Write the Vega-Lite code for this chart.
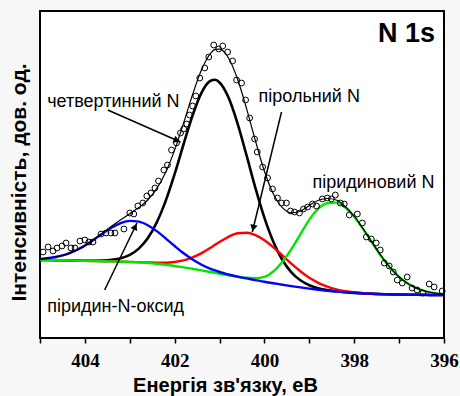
{
  "$schema": "https://vega.github.io/schema/vega-lite/v6.json",
  "width": 404,
  "height": 327,
  "autosize": {"type": "none"},
  "padding": {"left": 40, "top": 11, "right": 16, "bottom": 58},
  "background": "#f7f7f7",
  "config": {"view": {"stroke": "black", "strokeWidth": 2, "fill": "white"}},
  "datasets": {
    "curves": [
      {"x": 405.0, "bk": 78.0, "rd": 78.0, "bl": 79.0, "gr": 78.0, "ft": 79.0},
      {"x": 404.8, "bk": 78.0, "rd": 78.0, "bl": 80.0, "gr": 78.0, "ft": 80.0},
      {"x": 404.6, "bk": 77.8, "rd": 77.8, "bl": 81.5, "gr": 77.8, "ft": 81.5},
      {"x": 404.4, "bk": 77.6, "rd": 77.6, "bl": 83.9, "gr": 77.6, "ft": 83.9},
      {"x": 404.2, "bk": 77.4, "rd": 77.4, "bl": 87.6, "gr": 77.4, "ft": 87.6},
      {"x": 404.0, "bk": 77.3, "rd": 77.2, "bl": 92.4, "gr": 77.2, "ft": 92.5},
      {"x": 403.8, "bk": 77.3, "rd": 77.0, "bl": 98.3, "gr": 77.0, "ft": 98.6},
      {"x": 403.6, "bk": 77.4, "rd": 76.8, "bl": 104.6, "gr": 76.8, "ft": 105.2},
      {"x": 403.4, "bk": 78.1, "rd": 76.6, "bl": 110.5, "gr": 76.6, "ft": 112.0},
      {"x": 403.2, "bk": 79.7, "rd": 76.3, "bl": 114.9, "gr": 76.3, "ft": 118.3},
      {"x": 403.0, "bk": 83.1, "rd": 76.1, "bl": 117.1, "gr": 76.0, "ft": 124.3},
      {"x": 402.8, "bk": 89.4, "rd": 75.8, "bl": 116.4, "gr": 75.6, "ft": 130.4},
      {"x": 402.6, "bk": 99.7, "rd": 75.5, "bl": 112.8, "gr": 75.0, "ft": 138.0},
      {"x": 402.4, "bk": 115.5, "rd": 75.3, "bl": 106.9, "gr": 74.2, "ft": 149.3},
      {"x": 402.2, "bk": 137.1, "rd": 75.3, "bl": 99.7, "gr": 73.2, "ft": 165.7},
      {"x": 402.0, "bk": 164.1, "rd": 76.0, "bl": 92.0, "gr": 72.0, "ft": 188.1},
      {"x": 401.8, "bk": 194.0, "rd": 77.6, "bl": 84.7, "gr": 70.6, "ft": 215.1},
      {"x": 401.6, "bk": 222.8, "rd": 80.6, "bl": 78.5, "gr": 69.2, "ft": 243.5},
      {"x": 401.4, "bk": 245.4, "rd": 84.9, "bl": 73.3, "gr": 67.6, "ft": 268.4},
      {"x": 401.2, "bk": 257.2, "rd": 90.3, "bl": 69.2, "gr": 66.0, "ft": 284.7},
      {"x": 401.1, "bk": 258.2, "rd": 93.2, "bl": 67.6, "gr": 65.2, "ft": 288.6},
      {"x": 401.0, "bk": 255.5, "rd": 96.0, "bl": 66.0, "gr": 64.3, "ft": 288.9},
      {"x": 400.8, "bk": 240.4, "rd": 101.2, "bl": 63.5, "gr": 62.7, "ft": 280.0},
      {"x": 400.6, "bk": 214.6, "rd": 104.7, "bl": 61.4, "gr": 61.3, "ft": 259.0},
      {"x": 400.4, "bk": 182.8, "rd": 105.3, "bl": 59.6, "gr": 60.2, "ft": 229.7},
      {"x": 400.2, "bk": 149.9, "rd": 102.9, "bl": 57.9, "gr": 59.8, "ft": 197.1},
      {"x": 400.0, "bk": 120.1, "rd": 97.8, "bl": 56.2, "gr": 61.2, "ft": 166.7},
      {"x": 399.8, "bk": 96.0, "rd": 90.7, "bl": 54.7, "gr": 66.7, "ft": 144.0},
      {"x": 399.6, "bk": 78.0, "rd": 82.6, "bl": 53.3, "gr": 76.3, "ft": 130.3},
      {"x": 399.4, "bk": 65.7, "rd": 74.3, "bl": 51.9, "gr": 88.9, "ft": 125.1},
      {"x": 399.2, "bk": 57.7, "rd": 66.7, "bl": 50.6, "gr": 103.6, "ft": 126.8},
      {"x": 399.0, "bk": 52.8, "rd": 60.2, "bl": 49.4, "gr": 118.4, "ft": 132.6},
      {"x": 398.8, "bk": 49.8, "rd": 55.2, "bl": 48.3, "gr": 129.3, "ft": 137.7},
      {"x": 398.6, "bk": 47.9, "rd": 51.4, "bl": 47.3, "gr": 134.8, "ft": 139.5},
      {"x": 398.4, "bk": 46.7, "rd": 48.7, "bl": 46.4, "gr": 135.4, "ft": 138.0},
      {"x": 398.2, "bk": 45.8, "rd": 46.9, "bl": 45.7, "gr": 130.5, "ft": 131.5},
      {"x": 398.0, "bk": 45.1, "rd": 45.7, "bl": 45.1, "gr": 121.3, "ft": 121.9},
      {"x": 397.8, "bk": 44.6, "rd": 44.9, "bl": 44.6, "gr": 108.9, "ft": 109.2},
      {"x": 397.6, "bk": 44.2, "rd": 44.3, "bl": 44.2, "gr": 95.3, "ft": 95.4},
      {"x": 397.4, "bk": 43.9, "rd": 43.9, "bl": 43.9, "gr": 82.0, "ft": 82.0},
      {"x": 397.2, "bk": 43.6, "rd": 43.6, "bl": 43.6, "gr": 70.4, "ft": 70.4},
      {"x": 397.0, "bk": 43.4, "rd": 43.4, "bl": 43.4, "gr": 61.1, "ft": 61.1},
      {"x": 396.8, "bk": 43.3, "rd": 43.3, "bl": 43.3, "gr": 54.3, "ft": 54.3},
      {"x": 396.6, "bk": 43.2, "rd": 43.2, "bl": 43.2, "gr": 49.6, "ft": 49.6},
      {"x": 396.4, "bk": 43.1, "rd": 43.1, "bl": 43.1, "gr": 46.6, "ft": 46.6},
      {"x": 396.2, "bk": 43.0, "rd": 43.0, "bl": 43.0, "gr": 44.8, "ft": 44.8},
      {"x": 396.0, "bk": 43.0, "rd": 43.0, "bl": 43.0, "gr": 43.9, "ft": 43.9}
    ],
    "points": [
      {"x": 404.93, "y": 86}, {"x": 404.82, "y": 91}, {"x": 404.71, "y": 87}, {"x": 404.62, "y": 90},
      {"x": 404.51, "y": 92}, {"x": 404.42, "y": 95}, {"x": 404.31, "y": 90}, {"x": 404.22, "y": 90},
      {"x": 404.11, "y": 97}, {"x": 404.0, "y": 98}, {"x": 403.91, "y": 96}, {"x": 403.82, "y": 96},
      {"x": 403.64, "y": 104}, {"x": 403.53, "y": 105}, {"x": 403.42, "y": 105}, {"x": 403.33, "y": 105},
      {"x": 403.13, "y": 109}, {"x": 403.0, "y": 125}, {"x": 402.91, "y": 124}, {"x": 402.82, "y": 132},
      {"x": 402.71, "y": 135}, {"x": 402.62, "y": 142}, {"x": 402.53, "y": 145}, {"x": 402.44, "y": 150},
      {"x": 402.36, "y": 157}, {"x": 402.24, "y": 168}, {"x": 402.16, "y": 173}, {"x": 402.07, "y": 188},
      {"x": 401.96, "y": 195}, {"x": 401.87, "y": 205}, {"x": 401.8, "y": 209}, {"x": 401.73, "y": 214},
      {"x": 401.67, "y": 223}, {"x": 401.6, "y": 232}, {"x": 401.53, "y": 242}, {"x": 401.44, "y": 260},
      {"x": 401.33, "y": 270}, {"x": 401.24, "y": 281}, {"x": 401.13, "y": 293}, {"x": 401.02, "y": 289},
      {"x": 400.93, "y": 292}, {"x": 400.82, "y": 286}, {"x": 400.71, "y": 277}, {"x": 400.62, "y": 258},
      {"x": 400.51, "y": 255}, {"x": 400.42, "y": 238}, {"x": 400.33, "y": 220}, {"x": 400.22, "y": 199},
      {"x": 400.16, "y": 186}, {"x": 400.04, "y": 171}, {"x": 399.93, "y": 160}, {"x": 399.82, "y": 149},
      {"x": 399.71, "y": 140}, {"x": 399.62, "y": 135}, {"x": 399.51, "y": 135}, {"x": 399.42, "y": 127},
      {"x": 399.33, "y": 126}, {"x": 399.22, "y": 125}, {"x": 399.13, "y": 129}, {"x": 399.04, "y": 131},
      {"x": 398.93, "y": 134}, {"x": 398.84, "y": 132}, {"x": 398.71, "y": 139}, {"x": 398.6, "y": 140},
      {"x": 398.51, "y": 139}, {"x": 398.42, "y": 143}, {"x": 398.31, "y": 135}, {"x": 398.22, "y": 134},
      {"x": 398.11, "y": 123}, {"x": 397.93, "y": 124}, {"x": 397.82, "y": 115}, {"x": 397.73, "y": 101},
      {"x": 397.62, "y": 99}, {"x": 397.51, "y": 95}, {"x": 397.42, "y": 88}, {"x": 397.33, "y": 75},
      {"x": 397.22, "y": 72}, {"x": 397.13, "y": 66}, {"x": 397.04, "y": 58}, {"x": 396.93, "y": 55},
      {"x": 396.82, "y": 61}, {"x": 396.71, "y": 50}, {"x": 396.6, "y": 48}, {"x": 396.47, "y": 45},
      {"x": 396.33, "y": 54}, {"x": 396.22, "y": 51}, {"x": 396.04, "y": 47}
    ],
    "arrows": [
      {"a": "q", "x": 403.49, "y": 228, "x2": 401.87, "y2": 196},
      {"a": "p", "x": 399.62, "y": 226, "x2": 400.27, "y2": 106},
      {"a": "o", "x": 403.56, "y": 48, "x2": 402.84, "y2": 115}
    ],
    "heads": [
      {"a": "q", "x": 401.95, "y": 197.6},
      {"a": "p", "x": 400.25, "y": 109.9},
      {"a": "o", "x": 402.88, "y": 111.4}
    ],
    "labels": [
      {"x": 404.84, "y": 231, "t": "четвертинний N"},
      {"x": 400.13, "y": 236.5, "t": "пірольний N"},
      {"x": 398.93, "y": 150, "t": "піридиновий N"},
      {"x": 404.84, "y": 26, "t": "піридин-N-оксид"}
    ],
    "tag": [
      {"x": 396.2, "y": 296, "t": "N 1s"}
    ]
  },
  "encoding": {
    "x": {
      "field": "x", "type": "quantitative",
      "scale": {"domain": [396, 405], "reverse": true, "nice": false, "zero": false},
      "axis": {
        "values": [396, 397, 398, 399, 400, 401, 402, 403, 404, 405],
        "labelExpr": "datum.value % 2 == 0 && datum.value < 405 ? datum.label : ''",
        "format": "d",
        "labelFont": "Liberation Serif", "labelFontWeight": "bold", "labelFontSize": 19,
        "labelColor": "black", "labelPadding": 8, "labelFlush": false, "labelOverlap": false,
        "tickColor": "black", "tickWidth": 1.5, "tickSize": 5,
        "domain": false, "grid": false,
        "title": "Енергія зв'язку, еВ",
        "titleFont": "Liberation Sans", "titleFontSize": 20, "titleFontWeight": "bold",
        "titleColor": "black", "titleX": 185, "titleY": 53,
        "titleAlign": "center", "titleBaseline": "alphabetic"
      }
    },
    "y": {
      "field": "y", "type": "quantitative",
      "scale": {"domain": [0, 327], "nice": false, "zero": false},
      "axis": {
        "title": "Інтенсивність, дов. од.",
        "labels": false, "ticks": false, "domain": false, "grid": false,
        "titleFont": "Liberation Sans", "titleFontSize": 21, "titleFontWeight": "bold",
        "titleColor": "black", "titleX": -21, "titleY": 171, "titleAngle": 270,
        "titleAlign": "center", "titleBaseline": "middle"
      }
    }
  },
  "layer": [
    {
      "data": {"name": "curves"},
      "transform": [{"fold": ["bk"], "as": ["s", "y"]}],
      "mark": {"type": "line", "color": "black", "strokeWidth": 2.6, "interpolate": "monotone"}
    },
    {
      "data": {"name": "curves"},
      "transform": [{"fold": ["rd"], "as": ["s", "y"]}],
      "mark": {"type": "line", "color": "#ff0000", "strokeWidth": 2.4, "interpolate": "monotone"}
    },
    {
      "data": {"name": "curves"},
      "transform": [{"fold": ["gr"], "as": ["s", "y"]}],
      "mark": {"type": "line", "color": "#00e600", "strokeWidth": 2.4, "interpolate": "monotone"}
    },
    {
      "data": {"name": "curves"},
      "transform": [{"fold": ["bl"], "as": ["s", "y"]}],
      "mark": {"type": "line", "color": "#0000ff", "strokeWidth": 2.4, "interpolate": "monotone"}
    },
    {
      "data": {"name": "curves"},
      "transform": [{"fold": ["ft"], "as": ["s", "y"]}],
      "mark": {"type": "line", "color": "black", "strokeWidth": 1.2, "interpolate": "monotone"}
    },
    {
      "data": {"name": "points"},
      "mark": {"type": "point", "shape": "circle", "filled": false, "stroke": "black", "strokeWidth": 1, "size": 34, "opacity": 1}
    },
    {
      "data": {"name": "arrows"},
      "mark": {"type": "rule", "color": "black", "strokeWidth": 1.5},
      "encoding": {
        "x2": {"field": "x2"},
        "y2": {"field": "y2"}
      }
    },
    {
      "data": {"name": "heads"},
      "transform": [{"filter": "datum.a == 'q'"}],
      "mark": {"type": "point", "shape": "triangle-up", "filled": true, "color": "black", "size": 55, "angle": 113.7, "opacity": 1}
    },
    {
      "data": {"name": "heads"},
      "transform": [{"filter": "datum.a == 'p'"}],
      "mark": {"type": "point", "shape": "triangle-up", "filled": true, "color": "black", "size": 55, "angle": 193.6, "opacity": 1}
    },
    {
      "data": {"name": "heads"},
      "transform": [{"filter": "datum.a == 'o'"}],
      "mark": {"type": "point", "shape": "triangle-up", "filled": true, "color": "black", "size": 55, "angle": 25.5, "opacity": 1}
    },
    {
      "data": {"name": "labels"},
      "mark": {"type": "text", "align": "left", "baseline": "alphabetic", "font": "Liberation Sans", "fontSize": 18, "color": "black"},
      "encoding": {"text": {"field": "t"}}
    },
    {
      "data": {"name": "tag"},
      "mark": {"type": "text", "align": "right", "baseline": "alphabetic", "font": "Liberation Sans", "fontSize": 27, "fontWeight": "bold", "color": "black"},
      "encoding": {"text": {"field": "t"}}
    }
  ]
}
